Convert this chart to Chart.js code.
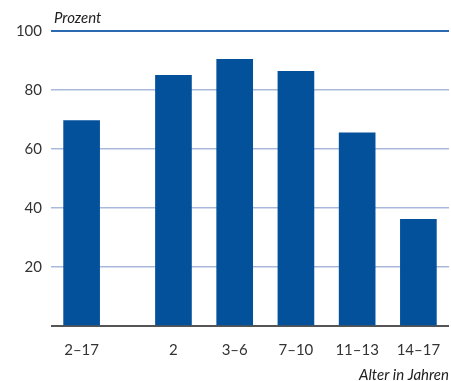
<!DOCTYPE html>
<html>
<head>
<meta charset="utf-8">
<script src="https://cdn.jsdelivr.net/npm/chart.js@4.4.0/dist/chart.umd.min.js"></script>
<style>
  html, body { margin: 0; padding: 0; background: #fff; }
  #wrap { width: 451px; height: 381px; }
</style>
</head>
<body>
<div id="wrap"><canvas id="chart"></canvas></div>
<script>
// age groups, the first one is the total, separated by a gap
const ageGroups = ['2–17', '2', '3–6', '7–10', '11–13', '14–17'];
const groupSlot = [0, 1.5, 2.5, 3.5, 4.5, 5.5];
const percent = [69.6, 85.0, 90.4, 86.3, 65.5, 36.2];
const yTicks = [0, 20, 40, 60, 80, 100];

const BAR = '#03519b';
const FONT = 'Lato, "Open Sans", sans-serif';

// "Prozent" label above the plot
const cornerLabel = {
    id: 'cornerLabel',
    afterDraw(chart) {
        const { ctx, chartArea } = chart;
        ctx.save();
        ctx.font = 'italic 15px ' + FONT;
        ctx.fillStyle = '#222';
        ctx.textAlign = 'left';
        ctx.textBaseline = 'alphabetic';
        ctx.fillText('Prozent', chartArea.left + 3, chartArea.top - 8);
        ctx.restore();
    }
};

new Chart(document.getElementById('chart'), {
    type: 'bar',
    data: {
        datasets: [{
            data: percent.map((v, i) => ({ x: groupSlot[i], y: v })),
            backgroundColor: BAR,
            borderWidth: 0,
            barThickness: 36,
        }]
    },
    options: {
        responsive: true,
        maintainAspectRatio: false,
        animation: false,
        layout: { padding: { top: 31, right: 2, left: 0, bottom: -3 } },
        plugins: { legend: { display: false }, tooltip: { enabled: false } },
        scales: {
            x: {
                type: 'linear',
                min: -0.5,
                max: 6,
                offset: false,
                afterBuildTicks: (scale) => { scale.ticks = groupSlot.map(v => ({ value: v })); },
                ticks: {
                    autoSkip: false,
                    maxRotation: 0,
                    padding: 7,
                    color: '#333',
                    font: { family: FONT, size: 15 },
                    callback: (v) => ageGroups[groupSlot.indexOf(v)] ?? '',
                },
                grid: { display: false },
                border: { display: false },
                title: {
                    display: true,
                    text: 'Alter in Jahren',
                    align: 'end',
                    color: '#222',
                    font: { family: FONT, size: 15, style: 'italic' },
                    padding: { top: 0, bottom: 0 },
                },
            },
            y: {
                min: 0,
                max: 100,
                afterBuildTicks: (scale) => { scale.ticks = yTicks.map(v => ({ value: v })); },
                afterFit: (scale) => { scale.width = 51; },
                ticks: {
                    padding: 9,
                    color: '#333',
                    font: { family: FONT, size: 15 },
                    callback: (v) => v === 0 ? '' : v,
                },
                grid: {
                    drawTicks: false,
                    color: (c) => c.tick.value === 100 ? '#2a68b0' : c.tick.value === 0 ? '#555' : '#a9b9dc',
                    lineWidth: (c) => c.tick.value === 100 || c.tick.value === 0 ? 2 : 1.5,
                },
                border: { display: false },
            }
        }
    },
    plugins: [cornerLabel]
});
</script>
</body>
</html>
